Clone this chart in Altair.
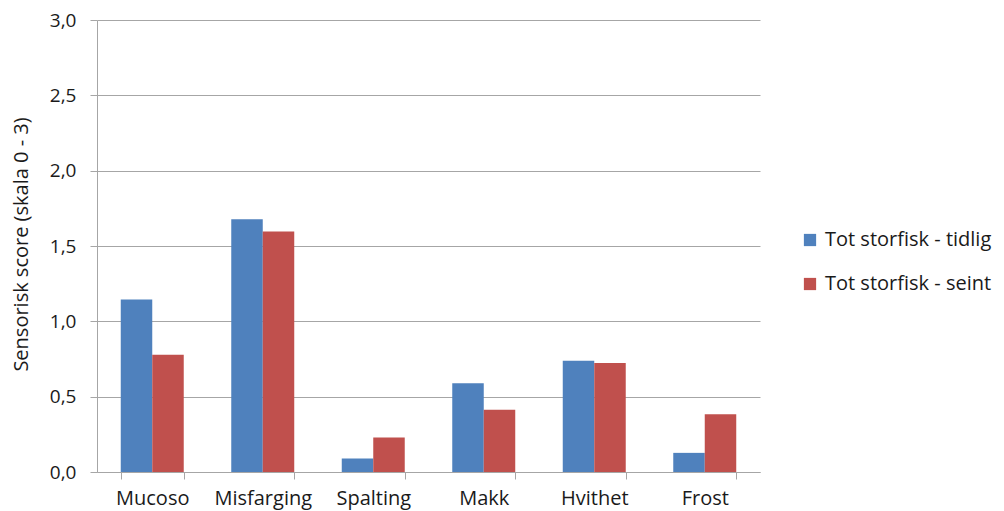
import altair as alt
import pandas as pd

categories = ["Mucoso", "Misfarging", "Spalting", "Makk", "Hvithet", "Frost"]
series_names = ["Tot storfisk - tidlig", "Tot storfisk - seint"]
tidlig = [1.145, 1.678, 0.089, 0.589, 0.738, 0.127]
seint = [0.778, 1.596, 0.229, 0.413, 0.723, 0.383]
colors = ["#4F81BD", "#C0504D"]

rows = []
for c, a, b in zip(categories, tidlig, seint):
    rows.append({"kategori": c, "serie": series_names[0], "verdi": a})
    rows.append({"kategori": c, "serie": series_names[1], "verdi": b})
df = pd.DataFrame(rows)

FONT = "Open Sans"
GRID = "#a6a6a6"
TXT = "#1a1a1a"

chart = alt.Chart(df).mark_bar().encode(
    x=alt.X(
        "kategori:N",
        sort=categories,
        title=None,
        scale=alt.Scale(paddingInner=0.43, paddingOuter=0.215),
        axis=alt.Axis(
            labelAngle=0,
            labelFontSize=20,
            labelFont=FONT,
            labelColor=TXT,
            tickBand="extent",
            tickSize=7,
            tickColor=GRID,
            domainColor=GRID,
            labelPadding=9,
            grid=False,
        ),
    ),
    xOffset=alt.XOffset("serie:N", sort=series_names, scale=alt.Scale(paddingInner=0, paddingOuter=0)),
    y=alt.Y(
        "verdi:Q",
        scale=alt.Scale(domain=[0, 3], nice=False),
        title="Sensorisk score (skala 0 - 3)",
        axis=alt.Axis(
            values=[0, 0.5, 1.0, 1.5, 2.0, 2.5, 3.0],
            labelExpr="replace(format(datum.value, '.1f'), '.', ',')",
            labelFontSize=19,
            labelFont=FONT,
            labelColor=TXT,
            labelPadding=14,
            tickSize=7,
            tickColor=GRID,
            domainColor=GRID,
            gridColor=GRID,
            titleFont=FONT,
            titleFontSize=20,
            titleFontWeight="normal",
            titleColor=TXT,
            titleX=-76,
            titleY=224,
            titleAngle=-90,
            titleAlign="center",
            titleBaseline="middle",
        ),
    ),
    color=alt.Color(
        "serie:N",
        sort=series_names,
        scale=alt.Scale(domain=series_names, range=colors),
        legend=alt.Legend(
            title=None,
            orient="none",
            legendX=703,
            legendY=210,
            symbolType="square",
            symbolSize=150,
            symbolStrokeWidth=0,
            labelFont=FONT,
            labelFontSize=20,
            labelColor=TXT,
            labelOffset=5,
            labelLimit=400,
            rowPadding=24,
        ),
    ),
).properties(
    width=663,
    height=452,
    autosize=alt.AutoSizeParams(type="none"),
    padding={"left": 89, "top": 12, "right": 236, "bottom": 38},
).configure_view(stroke=None)

chart.save("out.html", embed_options={"renderer": "svg", "actions": False})
